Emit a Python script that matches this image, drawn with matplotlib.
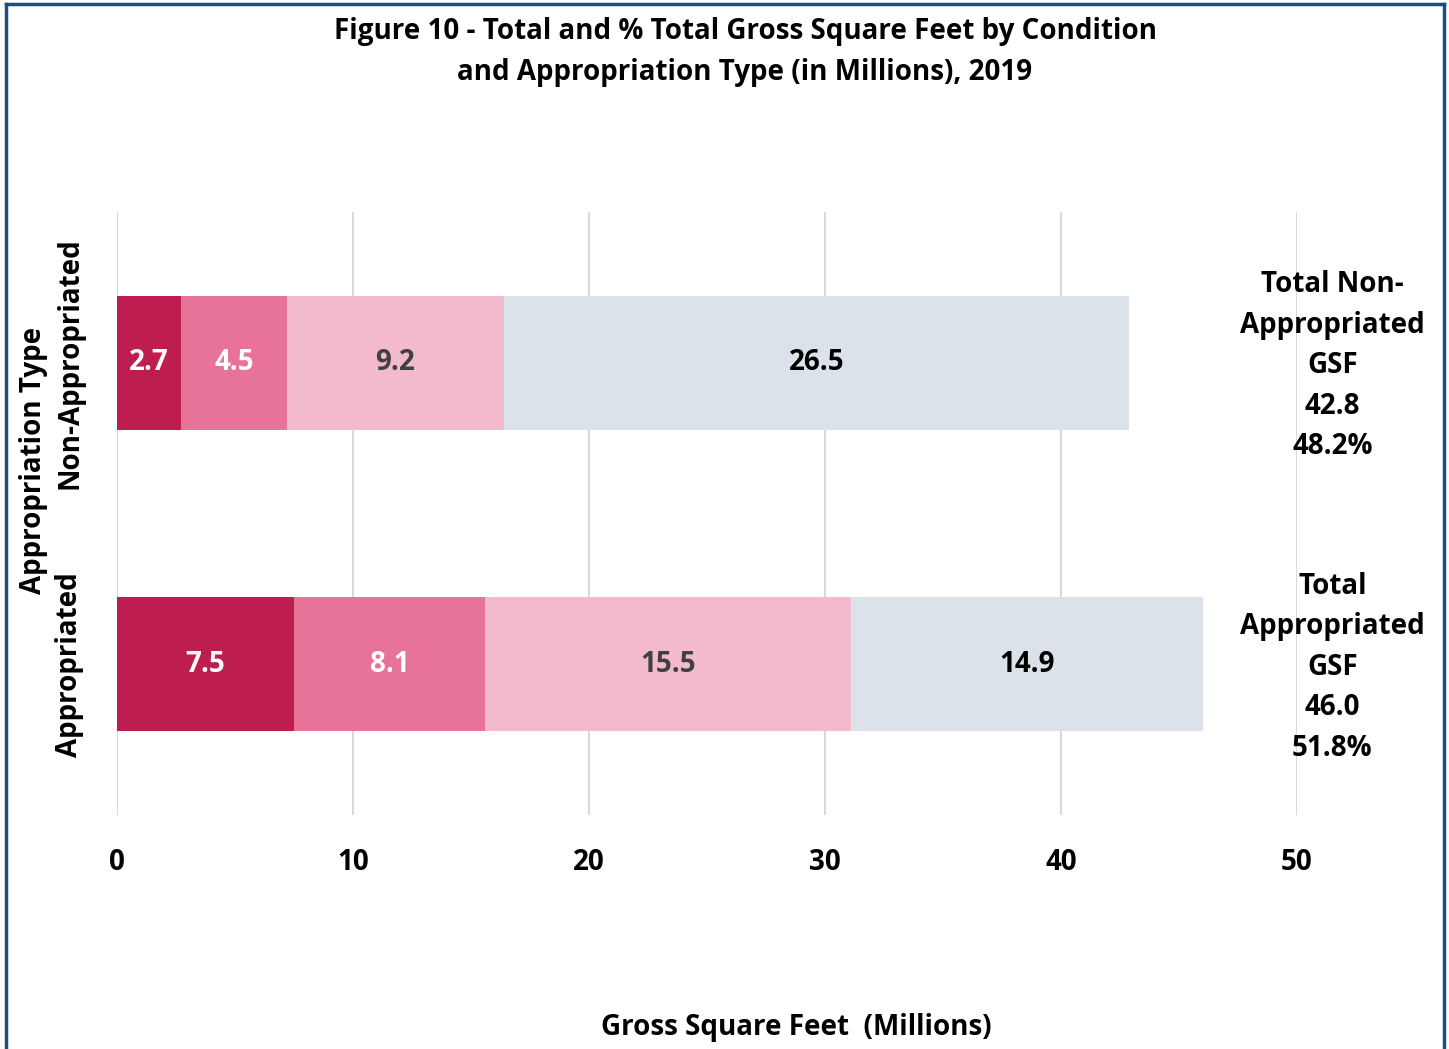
import matplotlib
matplotlib.use("Agg")
import matplotlib.pyplot as plt
from matplotlib.lines import Line2D
import numpy as np

# data (millions of gross square feet)
categories = ["Appropriated", "Non-Appropriated"]
poor = [7.5, 2.7]
fair = [8.1, 4.5]
good = [15.5, 9.2]
excellent = [14.9, 26.5]
totals = [46.0, 42.8]
pct = ["51.8%", "48.2%"]
total_names = ["Total\nAppropriated\nGSF", "Total Non-\nAppropriated\nGSF"]

seg_colors = ["#BE1E4F", "#E87399", "#F3B9CC", "#DBE2EA"]
label_colors = ["white", "white", "#404040", "black"]

FS = 20
plt.rcParams["font.family"] = ["Open Sans", "DejaVu Sans"]
plt.rcParams["font.weight"] = "bold"

fig = plt.figure(figsize=(14.49, 10.49), dpi=100)
ax = fig.add_axes([117 / 1449, 1 - 815 / 1049, 1180 / 1449, 603 / 1049])

y = np.arange(len(categories))
left = np.zeros(len(categories))
for vals, c, tc in zip([poor, fair, good, excellent], seg_colors, label_colors):
    bars = ax.barh(y, vals, left=left, height=0.444, color=c, zorder=2)
    ax.bar_label(bars, labels=["%.1f" % v for v in vals], label_type="center",
                 color=tc, fontsize=FS, fontweight="bold")
    left += np.array(vals)

ax.set_xlim(0, 50)
ax.set_ylim(-0.5, 1.5)
ax.set_xticks([0, 10, 20, 30, 40, 50])
ax.xaxis.grid(True, color="#D9D9D9", lw=1.5, zorder=0)
ax.tick_params(axis="both", length=0, labelsize=FS)
ax.tick_params(axis="x", pad=24)
ax.set_yticks(y)
ax.set_yticklabels(categories, rotation=90, va="center", ha="center")
ax.tick_params(axis="y", pad=34)
for s in ax.spines.values():
    s.set_visible(False)

for i in range(len(categories)):
    ax.text(51.5, y[i] - 0.01, "%s\n%.1f\n%s" % (total_names[i], totals[i], pct[i]),
            ha="center", va="center", fontsize=FS, fontweight="bold",
            linespacing=1.52, clip_on=False)

ax.set_xlabel("Gross Square Feet  (Millions)", fontsize=FS, fontweight="bold", va="center")
ax.xaxis.set_label_coords((796 - 117) / 1180, (815 - 1028) / 603)

fig.text(34 / 1449, 1 - 460 / 1049, "Appropriation Type", rotation=90,
         ha="center", va="center", fontsize=FS, fontweight="bold")

fig.suptitle("Figure 10 - Total and % Total Gross Square Feet by Condition\n"
             "and Appropriation Type (in Millions), 2019",
             x=745 / 1449, y=1 - 52 / 1049, va="center", fontsize=FS,
             fontweight="bold", linespacing=1.52)

# frame around the figure (bottom edge is cut off in the original)
bc = "#1F4E79"
fig.add_artist(Line2D([6.5 / 1449, 6.5 / 1449], [0, 1 - 4 / 1049], color=bc, lw=2.5))
fig.add_artist(Line2D([6.5 / 1449, 1444 / 1449], [1 - 4 / 1049, 1 - 4 / 1049], color=bc, lw=2.5))
fig.add_artist(Line2D([1444 / 1449, 1444 / 1449], [0, 1 - 4 / 1049], color=bc, lw=2.5))

fig.savefig("out.png", dpi=100, facecolor="white")
